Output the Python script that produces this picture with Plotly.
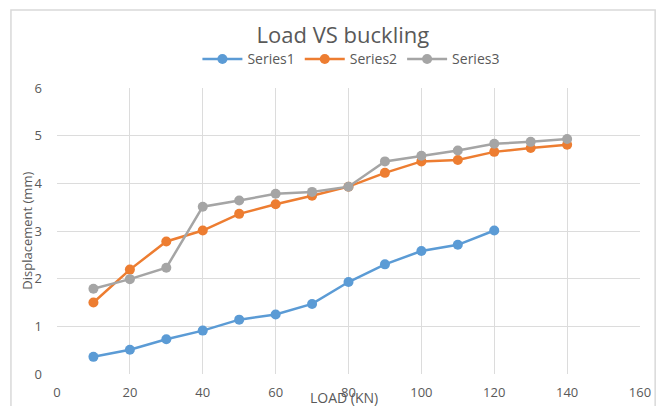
import plotly.graph_objects as go

load = [10, 20, 30, 40, 50, 60, 70, 80, 90, 100, 110, 120, 130, 140]
series1 = [0.36, 0.51, 0.73, 0.91, 1.14, 1.25, 1.47, 1.93, 2.30, 2.58, 2.71, 3.01]
series2 = [1.50, 2.19, 2.78, 3.01, 3.36, 3.56, 3.74, 3.93, 4.22, 4.46, 4.49, 4.66, 4.74, 4.81]
series3 = [1.79, 1.99, 2.23, 3.51, 3.64, 3.78, 3.82, 3.93, 4.46, 4.58, 4.69, 4.83, 4.87, 4.93]
names = ["Series1", "Series2", "Series3"]
colors = ["#5B9BD5", "#ED7D31", "#A5A5A5"]
x_ticks = [0, 20, 40, 60, 80, 100, 120, 140, 160]
y_ticks = [0, 1, 2, 3, 4, 5, 6]

fig = go.Figure()
for name, vals, col in zip(names, [series1, series2, series3], colors):
    fig.add_trace(go.Scatter(
        x=load[:len(vals)], y=vals, name=name, mode="lines+markers",
        line=dict(color=col, width=2.5),
        marker=dict(color=col, size=10),
    ))

font_family = "Open Sans, Liberation Sans, sans-serif"
fig.update_layout(
    width=662, height=406,
    margin=dict(l=57, r=22, t=88, b=32, autoexpand=False),
    paper_bgcolor="white", plot_bgcolor="white",
    font=dict(family=font_family, color="#595959", size=13),
    title=dict(text="Load VS buckling", x=0.518, xanchor="center", y=0.914, yanchor="middle",
               font=dict(size=22, color="#595959")),
    legend=dict(orientation="h", x=0.505, xanchor="center", y=1.1, yanchor="middle",
                font=dict(size=14, color="#595959"), itemwidth=40, traceorder="normal"),
    showlegend=True,
)
fig.update_xaxes(range=[0, 160], tickvals=x_ticks, showgrid=True, gridcolor="#DCDCDC",
                 gridwidth=1, zeroline=False, showline=False, ticks="",
                 ticklabelstandoff=9, tickfont=dict(size=13, color="#595959"))
fig.update_yaxes(range=[0, 6], tickvals=y_ticks, showgrid=True, gridcolor="#DCDCDC",
                 gridwidth=1, zeroline=False, showline=False, ticks="",
                 ticklabelstandoff=14, tickfont=dict(size=13, color="#595959"))

fig.add_annotation(text="LOAD (KN)", xref="paper", yref="paper", x=0.493, y=-0.083,
                   showarrow=False, xanchor="center", yanchor="middle",
                   font=dict(size=14, color="#595959"))
fig.add_annotation(text="Displacement (mm)", xref="paper", yref="paper", x=-0.052, y=0.5,
                   showarrow=False, textangle=-90, xanchor="center", yanchor="middle",
                   font=dict(size=13, color="#595959"))
fig.add_shape(type="rect", xref="paper", yref="paper", x0=-0.079, x1=1.026, y0=-0.2, y1=1.273,
              line=dict(color="#D9D9D9", width=1.5), layer="below")

fig.write_html("out.html", config={"displayModeBar": False},
               post_script="document.body.style.margin='0';document.body.style.overflow='hidden';")
